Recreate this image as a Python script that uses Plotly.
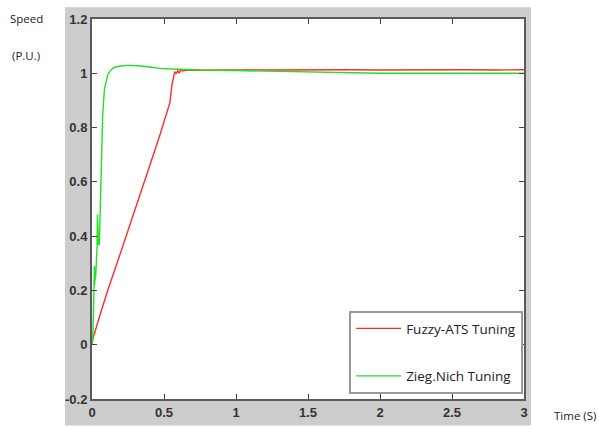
import plotly.graph_objects as go

# Fuzzy-ATS tuned speed response (time in s, speed in p.u.)
t_fuzzy = [0, 0.005, 0.05, 0.109, 0.18, 0.248, 0.32, 0.395, 0.47, 0.51, 0.54, 0.556,
           0.566, 0.575, 0.585, 0.595, 0.605, 0.615, 0.63, 0.66, 0.75, 0.9, 1.0, 1.2,
           1.4, 1.6, 1.8, 2.0, 2.2, 2.4, 2.6, 2.8, 3.0]
speed_fuzzy = [0.0, 0.02, 0.10, 0.20, 0.31, 0.42, 0.535, 0.65, 0.77, 0.835, 0.89, 0.96,
               0.99, 1.006, 0.998, 1.01, 1.0, 1.012, 1.008, 1.012, 1.011, 1.013, 1.012, 1.012,
               1.013, 1.012, 1.013, 1.012, 1.013, 1.012, 1.013, 1.012, 1.013]

# Ziegler-Nichols tuned speed response
t_zn = [0, 0.005, 0.012, 0.015, 0.017, 0.019, 0.021, 0.024, 0.03, 0.035, 0.038, 0.04,
        0.042, 0.045, 0.051, 0.058, 0.067, 0.074, 0.086, 0.098, 0.109, 0.125, 0.144,
        0.17, 0.2, 0.25, 0.318, 0.387, 0.47, 0.6, 0.75, 1.0, 1.2, 1.5, 1.8, 2.0, 2.5, 3.0]
speed_zn = [0.0, 0.02, 0.157, 0.22, 0.29, 0.22, 0.27, 0.24, 0.3, 0.36, 0.48, 0.38,
            0.46, 0.37, 0.367, 0.518, 0.70, 0.844, 0.94, 0.975, 0.994, 1.008, 1.018,
            1.024, 1.027, 1.029, 1.028, 1.024, 1.018, 1.015, 1.012, 1.01, 1.008, 1.004,
            1.001, 1.0, 1.0, 1.0]

x_ticks = [0, 0.5, 1, 1.5, 2, 2.5, 3]
x_tick_text = ["0", "0.5", "1", "1.5", "2", "2.5", "3"]
y_ticks = [-0.2, 0, 0.2, 0.4, 0.6, 0.8, 1, 1.2]
y_tick_text = ["-0.2", "0", "0.2", "0.4", "0.6", "0.8", "1", "1.2"]

W, H = 599, 432
ML, MR, MT, MB = 92, 75, 18, 27
pw = W - ML - MR
ph = H - MT - MB

def px_x(p):
    return (p - ML) / pw

def px_y(p):
    return (H - MB - p) / ph

fig = go.Figure()
fig.add_trace(go.Scatter(x=t_fuzzy, y=speed_fuzzy, mode="lines", name="Fuzzy-ATS Tuning",
                         line=dict(color="#ff2a2a", width=1.4), legendgroup="a"))
fig.add_trace(go.Scatter(x=t_zn, y=speed_zn, mode="lines", name="Zieg.Nich Tuning",
                         line=dict(color="#22e022", width=1.4), legendgroup="b"))

tick_font = dict(family="Liberation Sans, Arial, sans-serif", size=13, color="#333333", weight="bold")
axis_common = dict(showline=True, linecolor="#5a5a5a", linewidth=2, mirror="allticks",
                   ticks="inside", ticklen=5, tickwidth=1, tickcolor="#444444",
                   showgrid=False, zeroline=False, tickfont=tick_font)
label_font = dict(family="Open Sans, sans-serif", size=11.5, color="#222222")

fig.update_layout(
    width=W, height=H,
    margin=dict(l=ML, r=MR, t=MT, b=MB, pad=0),
    paper_bgcolor="white", plot_bgcolor="white",
    xaxis=dict(range=[0, 3], tickvals=x_ticks, ticktext=x_tick_text, **axis_common),
    yaxis=dict(range=[-0.2, 1.2], tickvals=y_ticks, ticktext=y_tick_text, **axis_common),
    showlegend=True,
    legend=dict(x=0.998, y=0.013, xanchor="right", yanchor="bottom",
                bgcolor="white", bordercolor="#9a9a9a", borderwidth=2,
                font=dict(family="Open Sans, sans-serif", size=13.5, color="#222222"),
                tracegroupgap=27, itemwidth=45),
    shapes=[
        # grey figure panel behind the axes
        dict(type="rect", xref="paper", yref="paper", layer="below",
             x0=px_x(65), x1=px_x(531), y0=px_y(H), y1=px_y(6),
             fillcolor="#cdcdcd", line=dict(width=0)),
        # white axes area
        dict(type="rect", xref="paper", yref="paper", layer="below",
             x0=0, x1=1, y0=0, y1=1, fillcolor="white", line=dict(width=0)),
    ],
    annotations=[
        dict(text="Speed", xref="paper", yref="paper", x=px_x(8), y=px_y(17),
             xanchor="left", yanchor="middle", showarrow=False, font=label_font),
        dict(text="(P.U.)", xref="paper", yref="paper", x=px_x(10), y=px_y(55),
             xanchor="left", yanchor="middle", showarrow=False, font=label_font),
        dict(text="Time (S)", xref="paper", yref="paper", x=px_x(552), y=px_y(422),
             xanchor="left", yanchor="middle", showarrow=False, font=label_font),
    ],
)

fig.write_html("out.html")
